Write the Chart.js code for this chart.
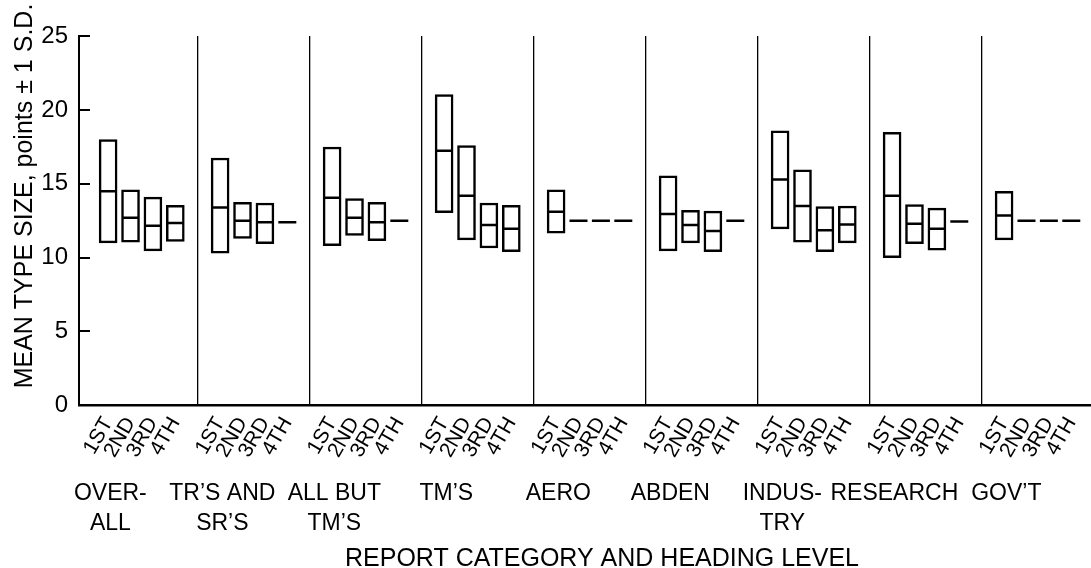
<!DOCTYPE html>
<html>
<head>
<meta charset="utf-8">
<title>Mean type size by report category and heading level</title>
<script src="https://cdn.jsdelivr.net/npm/chart.js@4.4.1/dist/chart.umd.min.js"></script>
<style>
  html, body { margin: 0; padding: 0; background: #fff; }
</style>
</head>
<body>
<canvas id="typeChart" width="1091" height="568"></canvas>
<script>
/* ---------- data ---------- */
const categories = [['OVER-', 'ALL'], ['TR’S AND', 'SR’S'], ['ALL BUT', 'TM’S'], ['TM’S'], ['AERO'],
                    ['ABDEN'], ['INDUS-', 'TRY'], ['RESEARCH'], ['GOV’T']];
const levels = ['1ST', '2ND', '3RD', '4TH'];
const yTicks = [0, 5, 10, 15, 20, 25];

// mean type size (points), one row per category, one column per heading level
const means = [
  [14.5, 12.7, 12.15, 12.35],
  [13.4, 12.5, 12.4, null],
  [14.05, 12.7, 12.4, null],
  [17.25, 14.2, 12.2, 11.95],
  [13.1, null, null, null],
  [12.95, 12.2, 11.8, null],
  [15.3, 13.5, 11.85, 12.25],
  [14.2, 12.3, 11.95, null],
  [12.85, null, null, null]
];
// mean - 1 S.D.
const lowSD = [
  [11.0, 11.05, 10.45, 11.1],
  [10.3, 11.3, 10.95, null],
  [10.8, 11.5, 11.15, null],
  [13.05, 11.2, 10.65, 10.4],
  [11.65, null, null, null],
  [10.45, 11.0, 10.4, null],
  [11.95, 11.05, 10.4, 11.0],
  [10.0, 10.95, 10.5, null],
  [11.2, null, null, null]
];
// mean + 1 S.D.
const highSD = [
  [18.0, 14.6, 14.1, 13.55],
  [16.75, 13.75, 13.7, null],
  [17.5, 14.0, 13.75, null],
  [21.05, 17.6, 13.7, 13.55],
  [14.6, null, null, null],
  [15.55, 13.2, 13.15, null],
  [18.6, 15.95, 13.45, 13.5],
  [18.5, 13.6, 13.35, null],
  [14.5, null, null, null]
];
// levels shown only as a dash (no S.D. box)
const singles = [
  [null, null, null, null],
  [null, null, null, 12.4],
  [null, null, null, 12.5],
  [null, null, null, null],
  [null, 12.5, 12.5, 12.5],
  [null, null, null, 12.5],
  [null, null, null, null],
  [null, null, null, 12.45],
  [null, 12.5, 12.5, 12.5]
];

const yTitleText = 'MEAN TYPE SIZE, points ± 1 S.D.';
const xTitleText = 'REPORT CATEGORY AND HEADING LEVEL';

/* ---------- build datasets ---------- */
const BLOCK = 5; // x units per category block
const boxes = [], meanPts = [], dashPts = [], slotTicks = [];
categories.forEach((c, g) => {
  levels.forEach((l, k) => {
    const x = g * BLOCK + k + 1;
    slotTicks.push(x);
    if (means[g][k] != null) {
      boxes.push({x, y: [lowSD[g][k], highSD[g][k]]});
      meanPts.push({x, y: means[g][k]});
    }
    if (singles[g][k] != null) dashPts.push({x, y: singles[g][k]});
  });
});
const separators = categories.slice(1).map((c, g) => (g + 1) * BLOCK);
const groupTicks = categories.map((c, g) => g * BLOCK + 1.1);

const FONT = '"Liberation Sans", Arial, Helvetica, sans-serif';
Chart.defaults.font.family = FONT;
Chart.defaults.color = '#000';

const X_MIN = -0.3, X_MAX = 44.88;

// no edge padding for the bottom axes, so the plot runs to the right edge like the original
const noEdgePad = s => { s.paddingLeft = 0; s.paddingRight = 0; };

// axis titles, placed where the original has them (neither is centred on the plot)
const titlesPlugin = {
  id: 'axisTitles',
  afterDraw(chart) {
    const ctx = chart.ctx;
    ctx.save();
    ctx.fillStyle = '#000';
    ctx.font = '25px ' + FONT;
    ctx.textAlign = 'center';
    ctx.textBaseline = 'alphabetic';
    ctx.fillText(xTitleText, 602, 566);
    ctx.translate(32, 196);
    ctx.rotate(-Math.PI / 2);
    ctx.fillText(yTitleText, 0, 0);
    ctx.restore();
  }
};

new Chart(document.getElementById('typeChart'), {
  type: 'bar',
  data: {
    datasets: [
      { type: 'line', data: meanPts, showLine: false, pointStyle: 'line', pointRadius: 7.5,
        pointBorderWidth: 2.5, pointBorderColor: '#000', order: 1 },
      { type: 'line', data: dashPts, showLine: false, pointStyle: 'line', pointRadius: 9,
        pointBorderWidth: 2.5, pointBorderColor: '#000', order: 1 },
      { data: boxes, backgroundColor: '#fff', borderColor: '#000', borderWidth: 2.5,
        borderSkipped: false, barThickness: 18, order: 2 }
    ]
  },
  options: {
    responsive: false,
    animation: false,
    events: [],
    layout: { autoPadding: false, padding: { top: 30, left: 0, right: 0, bottom: 0 } },
    plugins: { legend: { display: false }, tooltip: { enabled: false } },
    scales: {
      x: {
        type: 'linear', position: 'bottom', weight: 0, min: X_MIN, max: X_MAX, offset: false,
        grid: { display: false, drawTicks: false, offset: false },
        border: { display: true, color: '#000', width: 2.5 },
        ticks: { autoSkip: false, minRotation: 60, maxRotation: 60, padding: 8,
                 font: { size: 21 }, callback: (v, i) => levels[i % levels.length] },
        afterBuildTicks: s => { s.ticks = slotTicks.map(v => ({value: v})); },
        afterFit: s => { s.height = 70; noEdgePad(s); }
      },
      xg: {
        type: 'linear', position: 'bottom', weight: 1, min: X_MIN, max: X_MAX, offset: false,
        grid: { display: false, drawTicks: false, offset: false },
        border: { display: false },
        ticks: { autoSkip: false, maxRotation: 0, padding: 4,
                 font: { size: 23, lineHeight: 1.3 }, callback: (v, i) => categories[i] },
        afterBuildTicks: s => { s.ticks = groupTicks.map(v => ({value: v})); },
        afterFit: s => { s.height = 93; noEdgePad(s); }
      },
      xs: {
        type: 'linear', position: 'top', min: X_MIN, max: X_MAX, offset: false,
        grid: { color: '#000', lineWidth: 1.3, drawTicks: false, offset: false },
        border: { display: false },
        ticks: { display: false },
        afterBuildTicks: s => { s.ticks = separators.map(v => ({value: v})); },
        afterFit: s => { s.height = 0; noEdgePad(s); }
      },
      y: {
        min: 0, max: 25,
        grid: { drawOnChartArea: false, drawTicks: true, tickLength: -11, color: '#000', lineWidth: 2 },
        border: { display: true, color: '#000', width: 2 },
        ticks: { padding: 22, font: { size: 24 } },
        afterBuildTicks: s => { s.ticks = yTicks.map(v => ({value: v})); },
        afterFit: s => { s.width = 79; }
      }
    }
  },
  plugins: [titlesPlugin]
});
</script>
</body>
</html>
